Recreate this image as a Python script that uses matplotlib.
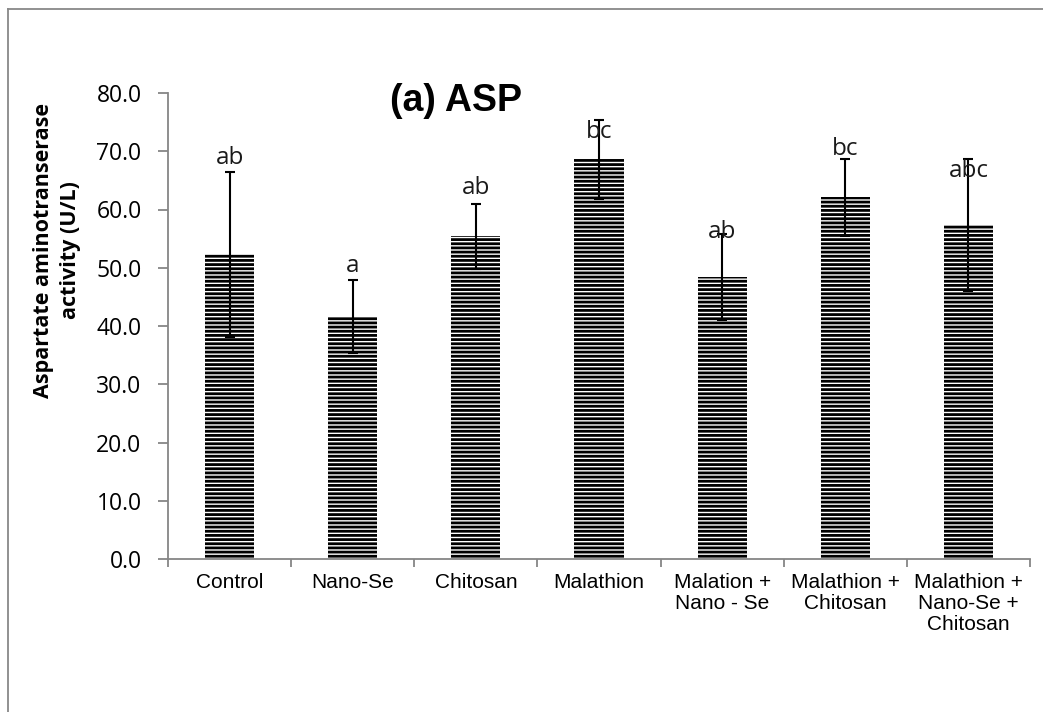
import matplotlib
matplotlib.use("Agg")
import matplotlib.pyplot as plt
from matplotlib.lines import Line2D
import numpy as np

categories = ["Control", "Nano-Se", "Chitosan", "Malathion",
              "Malation +\nNano - Se", "Malathion +\nChitosan",
              "Malathion +\nNano-Se +\nChitosan"]
means = [52.3, 41.6, 55.4, 68.6, 48.4, 62.1, 57.3]
errors = [14.2, 6.3, 5.6, 6.8, 7.4, 6.6, 11.3]
letters = ["ab", "a", "ab", "bc", "ab", "bc", "abc"]
letter_base = [67.8, 49.2, 62.7, 72.2, 55.1, 69.4, 65.5]
yticks = [0, 10, 20, 30, 40, 50, 60, 70, 80]

plt.rcParams['hatch.linewidth'] = 2.0
plt.rcParams['hatch.color'] = 'black'

W, H = 1043, 712
fig = plt.figure(figsize=(W / 100, H / 100), dpi=100)
fig.patch.set_facecolor('white')

# outer chart border (gray)
fig.add_artist(Line2D([8 / W, 1.0], [1 - 9 / H, 1 - 9 / H], color='#888888', lw=1.3,
                      transform=fig.transFigure))
fig.add_artist(Line2D([8 / W, 8 / W], [1 - 9 / H, 0.0], color='#888888', lw=1.3,
                      transform=fig.transFigure))

ax = fig.add_axes([168 / W, 1 - 559 / H, (1030 - 168) / W, (559 - 93) / H])
x = np.arange(len(categories))
ax.bar(x, means, width=0.4, color='white', edgecolor='black', linewidth=0,
       hatch='----', zorder=2)
ax.errorbar(x, means, yerr=errors, fmt='none', ecolor='black', elinewidth=1.5,
            capsize=3.6, capthick=1.5, zorder=3)

for xi, t, yy in zip(x, letters, letter_base):
    ax.text(xi, yy, t, ha='center', va='baseline', fontsize=17.5,
            family='Open Sans', color='#1a1a1a', zorder=4)

ax.set_xlim(-0.5, len(categories) - 0.5)
ax.set_ylim(0, 80)
ax.set_yticks(yticks)
ax.set_yticklabels([f"{v:.1f}" for v in yticks], family='Open Sans', fontsize=16.5)
ax.set_xticks(x)
ax.set_xticklabels(categories, family='Liberation Sans', fontsize=15, linespacing=1.15,
                   va='top')
ax.set_xticks(np.arange(-0.5, len(categories)), minor=True)
ax.tick_params(axis='x', which='major', length=0, pad=10)
ax.tick_params(axis='x', which='minor', length=6, color='#868686', width=1.3)
ax.tick_params(axis='y', length=7, color='#868686', width=1.3, pad=12)

for s in ['top', 'right']:
    ax.spines[s].set_visible(False)
for s in ['left', 'bottom']:
    ax.spines[s].set_color('#868686')
    ax.spines[s].set_linewidth(1.3)

fig.text(57 / W, 1 - 250 / H, "Aspartate aminotranserase\nactivity (U/L)", family='Open Sans',
         fontweight='bold', fontsize=15.5, linespacing=1.4, rotation=90,
         ha='center', va='center', multialignment='center')
fig.text(456 / W, 1 - 101 / H, "(a) ASP", family='Liberation Sans', fontweight='bold',
         fontsize=27, ha='center', va='center')

fig.savefig("out.png", dpi=100, facecolor='white')
